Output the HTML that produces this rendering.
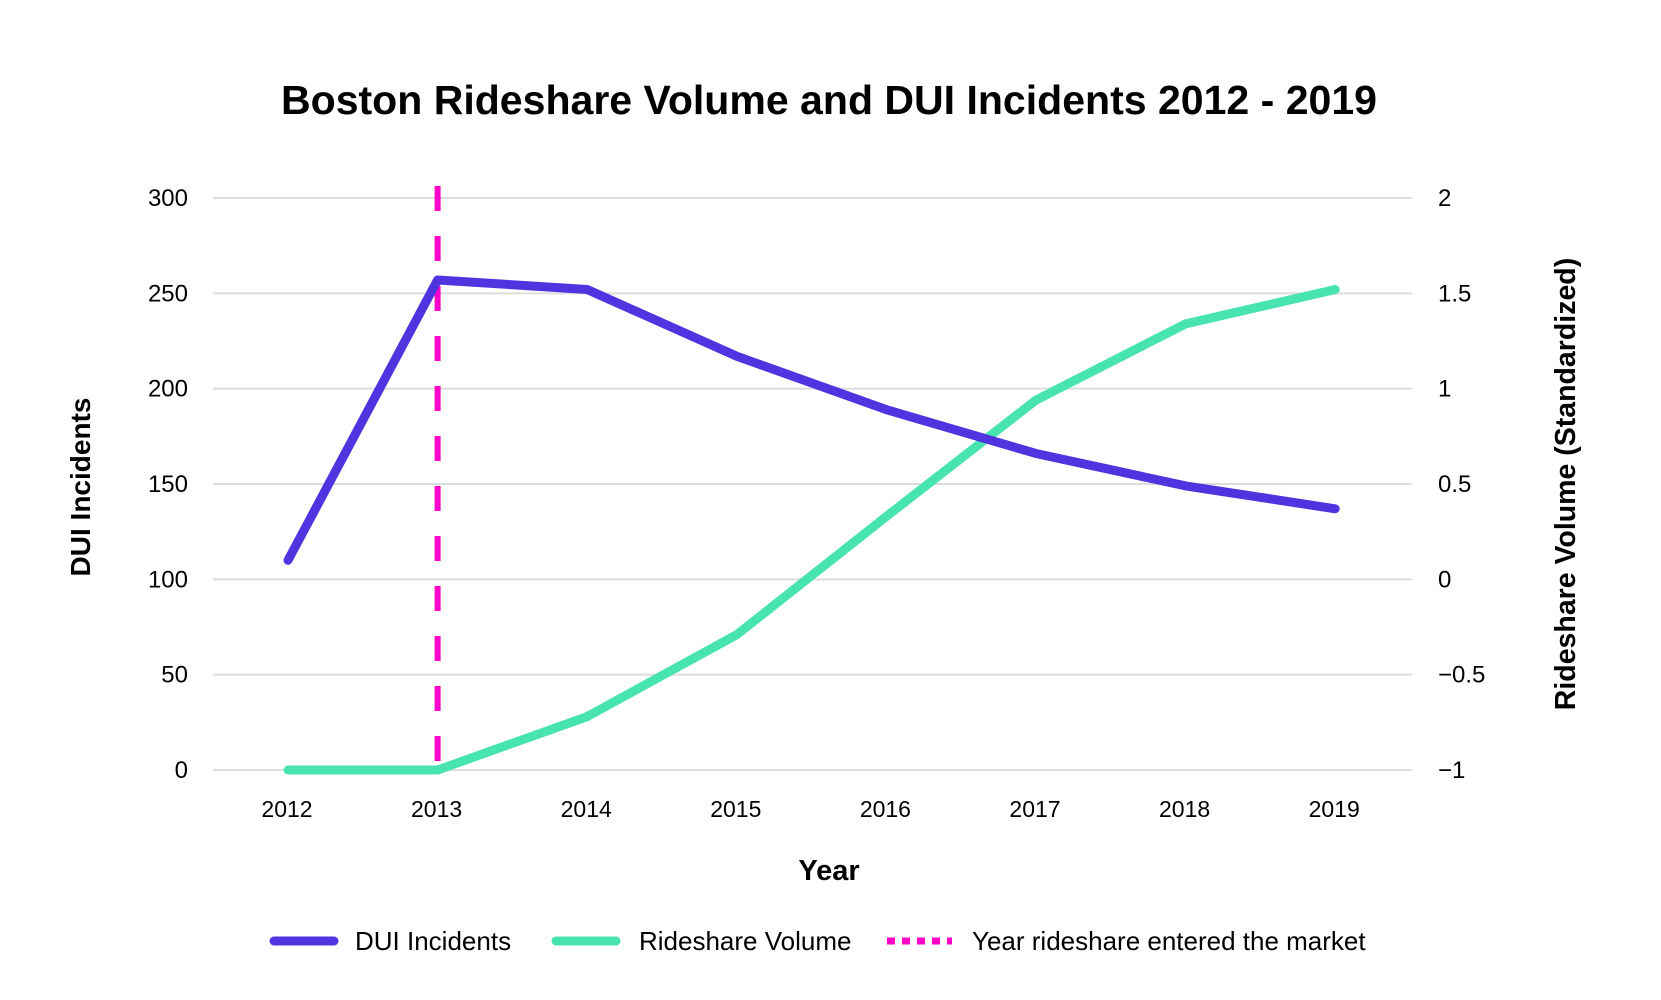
<!DOCTYPE html>
<html><head><meta charset="utf-8"><style>
html,body{margin:0;padding:0;background:#fff;}
svg{display:block;font-family:"Liberation Sans",sans-serif;}
</style></head><body>
<svg id="chart" width="1661" height="1000">
<text x="829" y="114" text-anchor="middle" font-size="41" font-weight="bold" textLength="1096" lengthAdjust="spacingAndGlyphs">Boston Rideshare Volume and DUI Incidents 2012 - 2019</text>
<g id="grid"></g><g id="marks"></g>
<text x="0" y="0" transform="translate(90,487) rotate(-90)" text-anchor="middle" font-size="28" font-weight="bold">DUI Incidents</text>
<text x="0" y="0" transform="translate(1575,484) rotate(-90)" text-anchor="middle" font-size="28.5" font-weight="bold">Rideshare Volume (Standardized)</text>
<text x="829" y="880" text-anchor="middle" font-size="29" font-weight="bold">Year</text>
<g>
<line x1="274" y1="941" x2="334" y2="941" stroke="#5034e0" stroke-width="9" stroke-linecap="round"/>
<text x="355" y="950" font-size="26">DUI Incidents</text>
<line x1="556" y1="941" x2="616" y2="941" stroke="#47e3b0" stroke-width="9" stroke-linecap="round"/>
<text x="639" y="950" font-size="26">Rideshare Volume</text>
<line x1="887" y1="941" x2="952" y2="941" stroke="#ff00c8" stroke-width="7" stroke-dasharray="8,7"/>
<text x="972" y="950" font-size="26">Year rideshare entered the market</text>
</g>
</svg>
<script>
const years=["2012","2013","2014","2015","2016","2017","2018","2019"];
const dui=[110,257,252,217,189,166,149,137];
const rideshare=[-1,-1,-0.72,-0.29,0.33,0.94,1.34,1.52];
const leftTicks=[0,50,100,150,200,250,300];
const rightTicks=["-1","-0.5","0","0.5","1","1.5","2"];
const entryYear="2013";
const NS="http://www.w3.org/2000/svg";
function x(i){return 288+i*149.6;}
function yL(v){return 770-(v/300)*572;}
function yR(v){return 770-((v+1)/3)*572;}
function mk(t,a,p){const e=document.createElementNS(NS,t);for(const k in a)e.setAttribute(k,a[k]);p.appendChild(e);return e;}
const grid=document.getElementById('grid'),marks=document.getElementById('marks');
leftTicks.forEach((v,i)=>{
  const l=mk('line',{x1:213,x2:1412,y1:yL(v),y2:yL(v),stroke:'#dddddd','stroke-width':2},grid);
  
  
  const t=mk('text',{x:188,y:yL(v)+8,'text-anchor':'end','font-size':24},grid);t.textContent=v;
  
  
  const r=mk('text',{x:1438,y:yL(v)+8,'font-size':24},grid);r.textContent=rightTicks[i].replace('-','\u2212');
  
  
});
years.forEach((y,i)=>{
  const t=mk('text',{x:x(i)-1,y:817,'text-anchor':'middle','font-size':23},grid);t.textContent=y;
  
  
});
const g=mk('polyline',{points:rideshare.map((v,i)=>x(i)+','+yR(v)).join(' '),fill:'none',stroke:'#47e3b0','stroke-width':9,'stroke-linecap':'round','stroke-linejoin':'round'},marks);


const ei=years.indexOf(entryYear);
const d=mk('line',{x1:x(ei),x2:x(ei),y1:186,y2:770,stroke:'#ff00c8','stroke-width':6,'stroke-dasharray':'25,25'},marks);


const p=mk('polyline',{points:dui.map((v,i)=>x(i)+','+yL(v)).join(' '),fill:'none',stroke:'#5034e0','stroke-width':9,'stroke-linecap':'round','stroke-linejoin':'round'},marks);


</script>
</body></html>
